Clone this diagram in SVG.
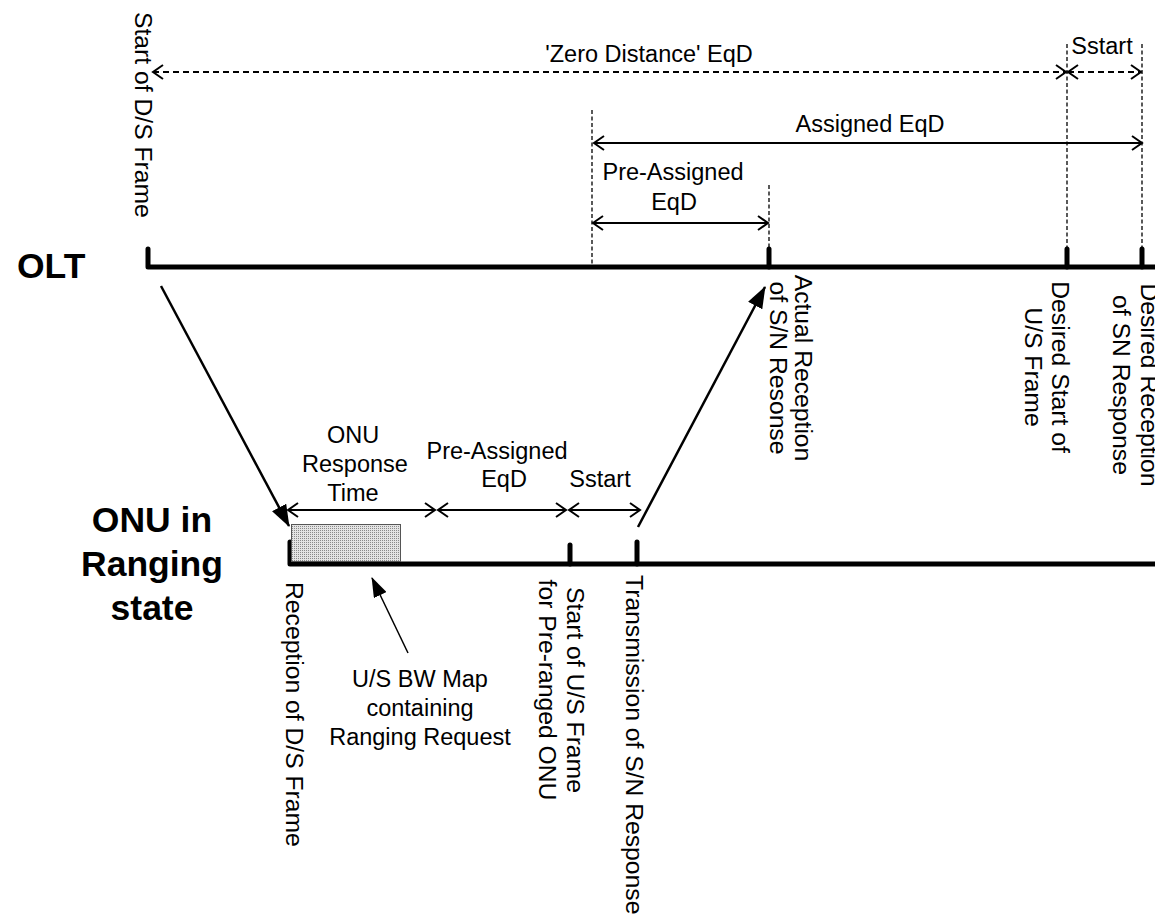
<svg xmlns="http://www.w3.org/2000/svg" width="1155" height="916" viewBox="0 0 1155 916">
  <style>
    text { font-family: "Liberation Sans", Arial, sans-serif; font-size: 23.5px; fill: #000; }
    .title { font-weight: bold; font-size: 35.5px; }
    .mid { text-anchor: middle; }
    .down { font-size: 24.7px; }
    .axis { fill: none; stroke: #000; stroke-width: 5; stroke-linecap: round; stroke-linejoin: round; }
    .tick { stroke: #000; stroke-width: 5; stroke-linecap: round; }
    .guide { stroke: #000; stroke-width: 1.3; stroke-dasharray: 4 2.5; fill: none; }
    .dim { stroke: #000; stroke-width: 2; fill: none; marker-start: url(#chev); marker-end: url(#chev); }
    .dimdash { stroke: #000; stroke-width: 2; stroke-dasharray: 6 4; fill: none; marker-start: url(#chev); marker-end: url(#chev); }
    .flow { stroke: #000; stroke-width: 2.5; fill: none; marker-end: url(#head); }
    .note { stroke: #000; stroke-width: 1.5; fill: none; marker-end: url(#headSmall); }
  </style>
  <defs>
    <marker id="chev" viewBox="0 0 14 16" markerWidth="14" markerHeight="16" refX="12" refY="8" orient="auto-start-reverse" markerUnits="userSpaceOnUse">
      <path d="M2,1 L12,8 L2,15" fill="none" stroke="#000" stroke-width="2"/>
    </marker>
    <marker id="head" viewBox="0 0 22 16" markerWidth="22" markerHeight="16" refX="21" refY="8" orient="auto" markerUnits="userSpaceOnUse">
      <path d="M0,0 L22,8 L0,16 z" fill="#000"/>
    </marker>
    <marker id="headSmall" viewBox="0 0 20 14" markerWidth="20" markerHeight="14" refX="19" refY="7" orient="auto" markerUnits="userSpaceOnUse">
      <path d="M0,0 L20,7 L0,14 z" fill="#000"/>
    </marker>
    <pattern id="dots" width="2" height="2" patternUnits="userSpaceOnUse">
      <rect width="2" height="2" fill="#e4e4e4"/>
      <rect width="1" height="1" fill="#8a8a8a"/>
    </pattern>
  </defs>

  <!-- OLT timeline -->
  <g id="olt">
    <text class="title" x="17" y="278">OLT</text>
    <path class="axis" d="M148,249 L148,267 L1160,267"/>
    <line class="tick" x1="769" y1="249" x2="769" y2="267"/>
    <line class="tick" x1="1067" y1="249" x2="1067" y2="267"/>
    <line class="tick" x1="1142" y1="249" x2="1142" y2="267"/>
  </g>

  <!-- ONU timeline -->
  <g id="onu">
    <text class="title mid" x="152" y="532">ONU in</text>
    <text class="title mid" x="152" y="576">Ranging</text>
    <text class="title mid" x="152" y="620">state</text>
    <path class="axis" d="M290,542 L290,564 L1160,564"/>
    <line class="tick" x1="570" y1="545" x2="570" y2="564"/>
    <line class="tick" x1="637" y1="542" x2="637" y2="564"/>
  </g>

  <!-- upstream bandwidth map burst -->
  <g id="bw-map">
    <rect x="291.5" y="524.5" width="109" height="37" fill="url(#dots)" stroke="#555" stroke-width="1"/>
  </g>

  <!-- guide lines -->
  <g id="guides">
    <line class="guide" x1="592" y1="110" x2="592" y2="265"/>
    <line class="guide" x1="769" y1="185" x2="769" y2="250"/>
    <line class="guide" x1="1067" y1="44" x2="1067" y2="250"/>
    <line class="guide" x1="1142" y1="44" x2="1142" y2="250"/>
  </g>

  <!-- dimension arrows and signal connectors -->
  <g id="connectors">
    <line class="dimdash" x1="153" y1="72" x2="1066" y2="72"/>
    <line class="dimdash" x1="1068" y1="72" x2="1141" y2="72"/>
    <line class="dim" x1="594" y1="143" x2="1142" y2="143"/>
    <line class="dim" x1="593" y1="223" x2="768" y2="223"/>
    <line class="dim" x1="288" y1="510" x2="435" y2="510"/>
    <line class="dim" x1="438" y1="510" x2="566" y2="510"/>
    <line class="dim" x1="569" y1="510" x2="640" y2="510"/>
    <line class="flow" x1="161" y1="286" x2="289" y2="526"/>
    <line class="flow" x1="638" y1="527" x2="765" y2="287"/>
    <line class="note" x1="408" y1="653" x2="372" y2="578"/>
  </g>

  <!-- dimension labels -->
  <g id="dimension-labels">
    <text class="mid" x="649" y="62">'Zero Distance' EqD</text>
    <text class="mid" x="1102" y="54">Sstart</text>
    <text class="mid" x="870" y="132">Assigned EqD</text>
    <text class="mid" x="673" y="180">Pre-Assigned</text>
    <text class="mid" x="674" y="210">EqD</text>
    <text class="mid" x="353" y="443">ONU</text>
    <text class="mid" x="355" y="472">Response</text>
    <text class="mid" x="353" y="501">Time</text>
    <text class="mid" x="497" y="459">Pre-Assigned</text>
    <text class="mid" x="504" y="487">EqD</text>
    <text class="mid" x="600" y="487">Sstart</text>
    <text class="mid" x="420" y="687">U/S BW Map</text>
    <text class="mid" x="420" y="716">containing</text>
    <text class="mid" x="420" y="745">Ranging Request</text>
  </g>

  <!-- event labels, written downwards -->
  <g id="event-labels">
    <text class="down" transform="translate(135,12) rotate(90)">Start of D/S Frame</text>
    <text class="down mid" transform="translate(795,368) rotate(90)">Actual Reception</text>
    <text class="down mid" transform="translate(770,368) rotate(90)">of S/N Resonse</text>
    <text class="down mid" transform="translate(1052,367) rotate(90)">Desired Start of</text>
    <text class="down mid" transform="translate(1025,367) rotate(90)">U/S Frame</text>
    <text class="down mid" transform="translate(1141,385) rotate(90)">Desired Reception</text>
    <text class="down mid" transform="translate(1113,385) rotate(90)">of SN Response</text>
    <text class="down" transform="translate(286,582) rotate(90)">Reception of D/S Frame</text>
    <text class="down mid" transform="translate(567,690) rotate(90)">Start of U/S Frame</text>
    <text class="down mid" transform="translate(539,690) rotate(90)">for Pre-ranged ONU</text>
    <text class="down" transform="translate(626,575) rotate(90)">Transmission of S/N Response</text>
  </g>
</svg>
